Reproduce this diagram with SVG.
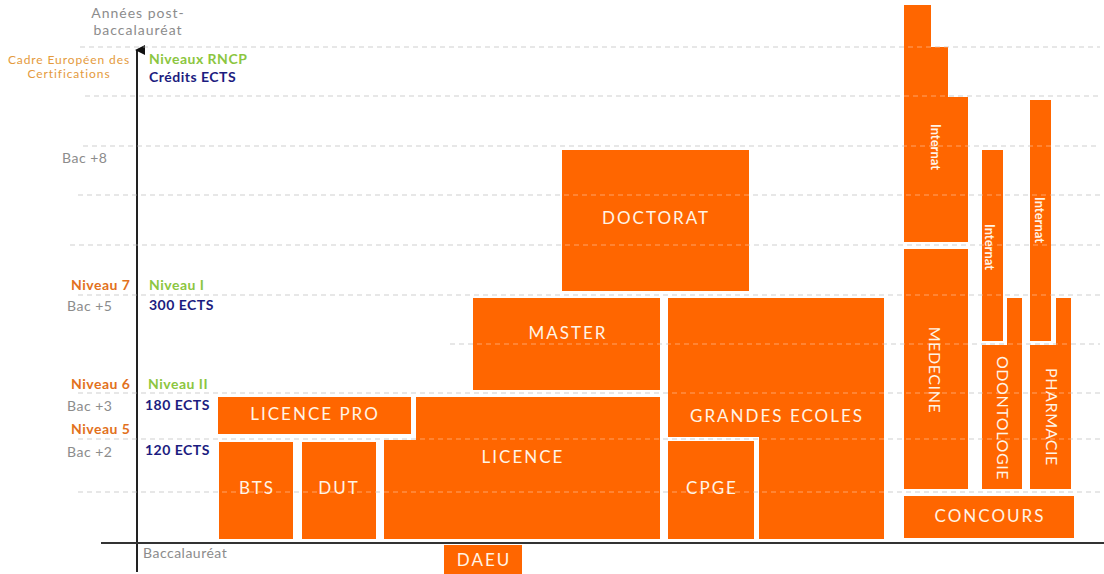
<svg xmlns="http://www.w3.org/2000/svg" width="1104" height="574" viewBox="0 0 1104 574">
<defs>
<style>
.box{fill:#FF6600}
.bt{fill:#FFF4E6;font-family:Lato,"Open Sans",sans-serif;font-size:17px;text-anchor:middle;letter-spacing:2px}
.vt{fill:#FFF4E6;font-family:Lato,"Open Sans",sans-serif;font-size:16px;text-anchor:middle;letter-spacing:0.6px}
.it{fill:#FFF4E6;font-family:Lato,sans-serif;font-size:13px;font-weight:bold;text-anchor:middle}
.lbl{font-family:Lato,"Open Sans",sans-serif;font-size:14px;letter-spacing:0.5px}
.gray{fill:#8c8c8c}
.org{fill:#E2711D;font-weight:bold}
.grn{fill:#8CC63F;font-weight:bold}
.nav{fill:#1C1C80;font-weight:bold}
.dash{stroke:#c4c4c4;stroke-width:1;stroke-dasharray:5 4;fill:none}
.dash2{stroke:#ffffff;stroke-opacity:0.4;stroke-width:1;stroke-dasharray:5 4;fill:none}
</style>
<marker id="arr" viewBox="0 0 10 10" refX="5" refY="2" markerWidth="10" markerHeight="10" markerUnits="userSpaceOnUse" orient="auto-start-reverse">
<path d="M0,10 L5,0 L10,10 Z" fill="#111"/>
</marker>
</defs>
<rect width="1104" height="574" fill="#ffffff"/>

<g id="gridlines" class="dash">
<line x1="80" y1="47" x2="1100" y2="47"/>
<line x1="85" y1="96" x2="1100" y2="96"/>
<line x1="83" y1="146" x2="1100" y2="146"/>
<line x1="78" y1="195" x2="1100" y2="195"/>
<line x1="70" y1="245" x2="1100" y2="245"/>
<line x1="78" y1="295" x2="1100" y2="295"/>
<line x1="450" y1="344" x2="1100" y2="344"/>
<line x1="78" y1="393" x2="1100" y2="393"/>
<line x1="78" y1="439" x2="1100" y2="439"/>
<line x1="78" y1="492" x2="1100" y2="492"/>
</g>

<g id="axes">
<line x1="137" y1="572" x2="137" y2="50" stroke="#222" stroke-width="2" marker-end="url(#arr)"/>
<line x1="101" y1="543" x2="1104" y2="543" stroke="#333" stroke-width="2"/>
</g>

<g id="bts"><rect class="box" x="219" y="442" width="74" height="97"/><text class="bt" x="257" y="494">BTS</text></g>
<g id="dut"><rect class="box" x="302" y="442" width="74" height="97"/><text class="bt" x="339" y="494">DUT</text></g>
<g id="licence"><path class="box" d="M416,397 H660 V539 H384 V440 H416 Z"/><text class="bt" x="523" y="463">LICENCE</text></g>
<g id="licence-pro"><rect class="box" x="218" y="397" width="193" height="37"/><text class="bt" x="315" y="420">LICENCE PRO</text></g>
<g id="master"><rect class="box" x="473" y="298" width="187" height="92"/><text class="bt" x="568" y="339">MASTER</text></g>
<g id="doctorat"><rect class="box" x="562" y="150" width="187" height="141"/><text class="bt" x="656" y="224">DOCTORAT</text></g>
<g id="grandes-ecoles"><path class="box" d="M668,298 H884 V539 H759 V437 H668 Z"/><text class="bt" x="777" y="422">GRANDES ECOLES</text></g>
<g id="cpge"><rect class="box" x="668" y="441" width="86" height="98"/><text class="bt" x="712" y="494">CPGE</text></g>
<g id="daeu"><rect class="box" x="444" y="545" width="78" height="29"/><text class="bt" x="484" y="566">DAEU</text></g>

<g id="internat-medecine"><path class="box" d="M904,5 H931 V47 H948 V97 H968 V242 H904 Z"/><text class="it" transform="translate(935,147) rotate(90)" y="4">Internat</text></g>
<g id="medecine"><rect class="box" x="904" y="249" width="64" height="240"/><text class="vt" transform="translate(935,370) rotate(90)" y="6">MEDECINE</text></g>
<g id="internat-odonto"><rect class="box" x="982" y="150" width="21" height="191"/><text class="it" transform="translate(989,247) rotate(90)" y="4">Internat</text></g>
<g id="odontologie"><path class="box" d="M1007,298 H1022 V489 H982 V345 H1007 Z"/><text class="vt" transform="translate(1003,418) rotate(90)" y="6">ODONTOLOGIE</text></g>
<g id="internat-pharma"><rect class="box" x="1030" y="100" width="21" height="241"/><text class="it" transform="translate(1039,220) rotate(90)" y="4">Internat</text></g>
<g id="pharmacie"><path class="box" d="M1056,298 H1071 V489 H1030 V345 H1056 Z"/><text class="vt" transform="translate(1052,417) rotate(90)" y="6">PHARMACIE</text></g>
<g id="concours"><rect class="box" x="904" y="496" width="170" height="42"/><text class="bt" x="990" y="522">CONCOURS</text></g>

<g id="gridlines-over" class="dash2">
<line x1="80" y1="47" x2="1100" y2="47"/>
<line x1="85" y1="96" x2="1100" y2="96"/>
<line x1="83" y1="146" x2="1100" y2="146"/>
<line x1="78" y1="195" x2="1100" y2="195"/>
<line x1="70" y1="245" x2="1100" y2="245"/>
<line x1="78" y1="295" x2="1100" y2="295"/>
<line x1="450" y1="344" x2="1100" y2="344"/>
<line x1="78" y1="393" x2="1100" y2="393"/>
<line x1="78" y1="439" x2="1100" y2="439"/>
<line x1="78" y1="492" x2="1100" y2="492"/>
</g>

<g id="labels" class="lbl">
<text class="gray" x="138" y="18" text-anchor="middle" letter-spacing="1">Années post-</text>
<text class="gray" x="138" y="35" text-anchor="middle" letter-spacing="1">baccalauréat</text>
<text x="69" y="64" text-anchor="middle" fill="#E49A3C" font-size="12" letter-spacing="0.9">Cadre Européen des</text>
<text x="69" y="78" text-anchor="middle" fill="#E49A3C" font-size="12" letter-spacing="0.9">Certifications</text>
<text class="grn" x="149" y="64">Niveaux RNCP</text>
<text class="nav" x="149" y="82">Crédits ECTS</text>
<text class="gray" x="62" y="163">Bac +8</text>
<text class="org" x="71" y="290">Niveau 7</text>
<text class="grn" x="149" y="290">Niveau I</text>
<text class="gray" x="67" y="311">Bac +5</text>
<text class="nav" x="149" y="310">300 ECTS</text>
<text class="org" x="71" y="389">Niveau 6</text>
<text class="grn" x="148" y="389">Niveau II</text>
<text class="gray" x="67" y="411">Bac +3</text>
<text class="nav" x="145" y="410">180 ECTS</text>
<text class="org" x="71" y="434">Niveau 5</text>
<text class="gray" x="67" y="457">Bac +2</text>
<text class="nav" x="145" y="455">120 ECTS</text>
<text class="gray" x="143" y="558">Baccalauréat</text>
</g>
</svg>
